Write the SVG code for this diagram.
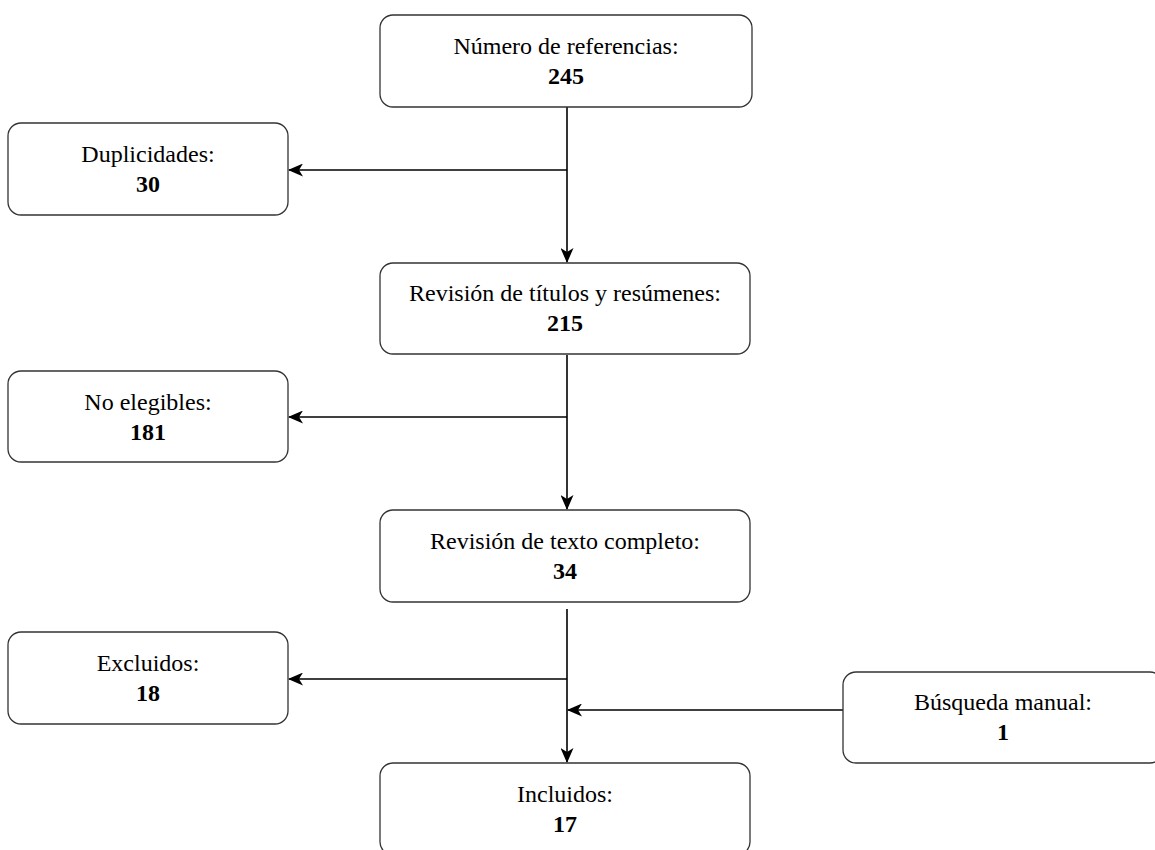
<svg xmlns="http://www.w3.org/2000/svg" width="1155" height="850" viewBox="0 0 1155 850">
<style>
.box{fill:#ffffff;stroke:#333333;stroke-width:1.3}
.t{font-family:"Liberation Serif","Times New Roman",serif;font-size:24px;fill:#000;text-anchor:middle}
.b{font-weight:bold}
.c{fill:none;stroke:#000;stroke-width:1.6}
</style>
<defs>
<marker id="arr" viewBox="0 0 15 13" refX="14" refY="6.5" markerWidth="15" markerHeight="13" markerUnits="userSpaceOnUse" orient="auto">
<path d="M0,0 L15,6.5 L0,13 L4,6.5 Z" fill="#000"/>
</marker>
</defs>
<rect width="1155" height="850" fill="#fff"/>
<g id="connectors">
<line class="c" x1="567" y1="107" x2="567" y2="262" marker-end="url(#arr)"/>
<line class="c" x1="567" y1="170" x2="289" y2="170" marker-end="url(#arr)"/>
<line class="c" x1="567" y1="355" x2="567" y2="509" marker-end="url(#arr)"/>
<line class="c" x1="567" y1="417" x2="289" y2="417" marker-end="url(#arr)"/>
<line class="c" x1="567" y1="609" x2="567" y2="762" marker-end="url(#arr)"/>
<line class="c" x1="567" y1="679" x2="289" y2="679" marker-end="url(#arr)"/>
<line class="c" x1="843" y1="710" x2="568" y2="710" marker-end="url(#arr)"/>
</g>
<g id="n1">
<rect class="box" x="380" y="15" width="372" height="92" rx="13"/>
<text class="t" x="566" y="54">Número de referencias:</text>
<text class="t b" x="566" y="84">245</text>
</g>
<g id="n2">
<rect class="box" x="8" y="123" width="280" height="92" rx="13"/>
<text class="t" x="148" y="162">Duplicidades:</text>
<text class="t b" x="148" y="192">30</text>
</g>
<g id="n3">
<rect class="box" x="380" y="263" width="370" height="91" rx="13"/>
<text class="t" x="565" y="301">Revisión de títulos y resúmenes:</text>
<text class="t b" x="565" y="331">215</text>
</g>
<g id="n4">
<rect class="box" x="8" y="371" width="280" height="91" rx="13"/>
<text class="t" x="148" y="410">No elegibles:</text>
<text class="t b" x="148" y="440">181</text>
</g>
<g id="n5">
<rect class="box" x="380" y="510" width="370" height="92" rx="13"/>
<text class="t" x="565" y="549">Revisión de texto completo:</text>
<text class="t b" x="565" y="579">34</text>
</g>
<g id="n6">
<rect class="box" x="8" y="632" width="280" height="92" rx="13"/>
<text class="t" x="148" y="671">Excluidos:</text>
<text class="t b" x="148" y="701">18</text>
</g>
<g id="n7">
<rect class="box" x="843" y="672" width="320" height="91" rx="13"/>
<text class="t" x="1003" y="710">Búsqueda manual:</text>
<text class="t b" x="1003" y="740">1</text>
</g>
<g id="n8">
<rect class="box" x="380" y="763" width="370" height="92" rx="13"/>
<text class="t" x="565" y="802">Incluidos:</text>
<text class="t b" x="565" y="832">17</text>
</g>
</svg>
